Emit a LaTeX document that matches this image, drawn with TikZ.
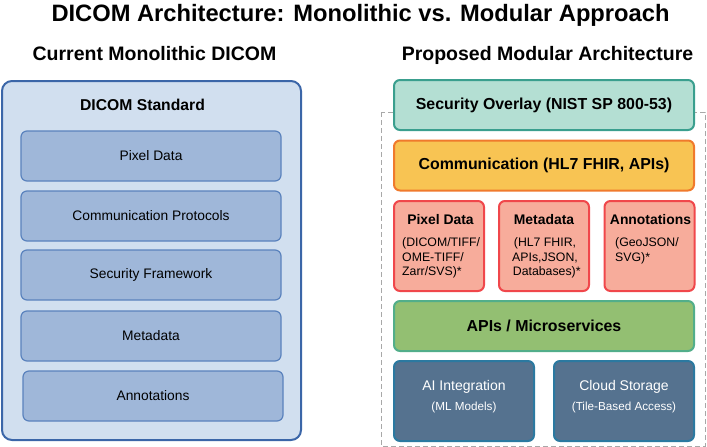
\documentclass[tikz,border=0pt]{standalone}
\usepackage{fontspec}
\setmainfont{Liberation Sans}
\definecolor{outerfill}{HTML}{D1DFEF}
\definecolor{outerdraw}{HTML}{3B66A8}
\definecolor{layerfill}{HTML}{9FB7D9}
\definecolor{layerdraw}{HTML}{5A82BD}
\definecolor{secfill}{HTML}{B4DFD3}
\definecolor{secdraw}{HTML}{3A9F8E}
\definecolor{comfill}{HTML}{F8C453}
\definecolor{comdraw}{HTML}{F07A2C}
\definecolor{modfill}{HTML}{F7AC9B}
\definecolor{moddraw}{HTML}{F0474B}
\definecolor{apifill}{HTML}{93BF72}
\definecolor{apidraw}{HTML}{52AE8A}
\definecolor{svcfill}{HTML}{55728F}
\definecolor{svcdraw}{HTML}{2B79A0}
\definecolor{framegray}{HTML}{A8A8A8}

\begin{document}
\begin{tikzpicture}[x=1pt,y=-1pt,
  heading/.style={font=\bfseries\fontsize{19.5}{22}\selectfont, inner sep=0pt},
  layer/.style={draw=layerdraw, fill=layerfill, line width=1.2pt, rounded corners=6pt, minimum width=260pt, minimum height=50pt, inner sep=0pt, font=\fontsize{13.8}{16}\selectfont},
  band/.style={line width=2pt, rounded corners=6pt, minimum width=300pt, minimum height=50pt, inner sep=0pt, font=\bfseries\fontsize{15.9}{18}\selectfont},
  module/.style={draw=moddraw, fill=modfill, line width=2pt, rounded corners=6pt, minimum width=90pt, minimum height=90pt, inner sep=0pt},
  modtitle/.style={anchor=base, inner sep=0pt, font=\bfseries\fontsize{13.9}{16}\selectfont},
  modtext/.style={inner sep=0pt, font=\fontsize{12.3}{14.9}\selectfont},
  service/.style={draw=svcdraw, fill=svcfill, line width=2pt, rounded corners=6pt, minimum width=140pt, minimum height=80pt, inner sep=0pt},
  svctitle/.style={anchor=base, inner sep=0pt, text=white, font=\fontsize{14}{16}\selectfont},
  svcnote/.style={anchor=base, inner sep=0pt, text=white, font=\fontsize{11.7}{14}\selectfont}]

\useasboundingbox (0,0) rectangle (707,447);

%%Title
\node[anchor=base, inner sep=0pt, font=\bfseries\fontsize{23.7}{26}\selectfont] (title) at (360.5,21) {DICOM Architecture: Monolithic vs. Modular Approach};
\node[heading, anchor=base] (lefthead) at (154.5,60.5) {Current Monolithic DICOM};
\node[heading, anchor=base] (righthead) at (547.5,60.5) {Proposed Modular Architecture};

%%Left: monolithic block
\node[draw=outerdraw, fill=outerfill, line width=2pt, rounded corners=10pt, minimum width=299pt, minimum height=359pt, inner sep=0pt] (dicom) at (151.5,260.5) {};
\node[anchor=base, inner sep=0pt, font=\bfseries\fontsize{15.7}{18}\selectfont] (dicomhead) at (142.5,110.5) {DICOM Standard};
\node[layer] (pixel) at (151,156) {Pixel Data};
\node[layer] (comm) at (151,216) {Communication Protocols};
\node[layer] (secfw) at (151,275) {Security Framework};
\node[layer] (meta) at (151,336) {Metadata};
\node[layer] (annot) at (153,396) {Annotations};

%%Right: modular stack
\draw[dashed, dash pattern=on 5pt off 3pt, framegray, line width=1pt] (381,112) rectangle (705,446);
\node[band, draw=secdraw, fill=secfill] (overlay) at (544,105) {Security Overlay (NIST SP 800-53)};
\node[band, draw=comdraw, fill=comfill] (hlcomm) at (544,165.5) {Communication (HL7 FHIR, APIs)};

%%Modules
\node[module] (pixmod) at (439,246) {};
\node[module] (metamod) at (544,246) {};
\node[module] (annmod) at (649.5,246) {};
\node[modtitle] (pixname) at (440.5,224) {Pixel Data};
\node[modtitle] (metaname) at (544,224) {Metadata};
\node[modtitle] (annname) at (650.5,224) {Annotations};
\node[modtext, anchor=north west, align=left] (pixfmt) at (402,237) {(DICOM/TIFF/\\OME-TIFF/\\Zarr/SVS)*};
\node[modtext, anchor=north, align=center] (metafmt) at (545,237) {(HL7 FHIR,\\APIs,JSON,\\\ Databases)*};
\node[modtext, anchor=north west, align=left] (annfmt) at (615,237) {(GeoJSON/\\SVG)*};

%%APIs and services
\node[band, draw=apidraw, fill=apifill] (apis) at (544,326) {APIs / Microservices};
\node[service] (ai) at (464,401) {};
\node[service] (cloud) at (624,401) {};
\node[svctitle] (ainame) at (464,390.5) {AI Integration};
\node[svcnote] (ainote) at (464,410.5) {(ML Models)};
\node[svctitle] (cloudname) at (624,390.5) {Cloud Storage};
\node[svcnote] (cloudnote) at (624,410.5) {(Tile-Based Access)};

\end{tikzpicture}
\end{document}
